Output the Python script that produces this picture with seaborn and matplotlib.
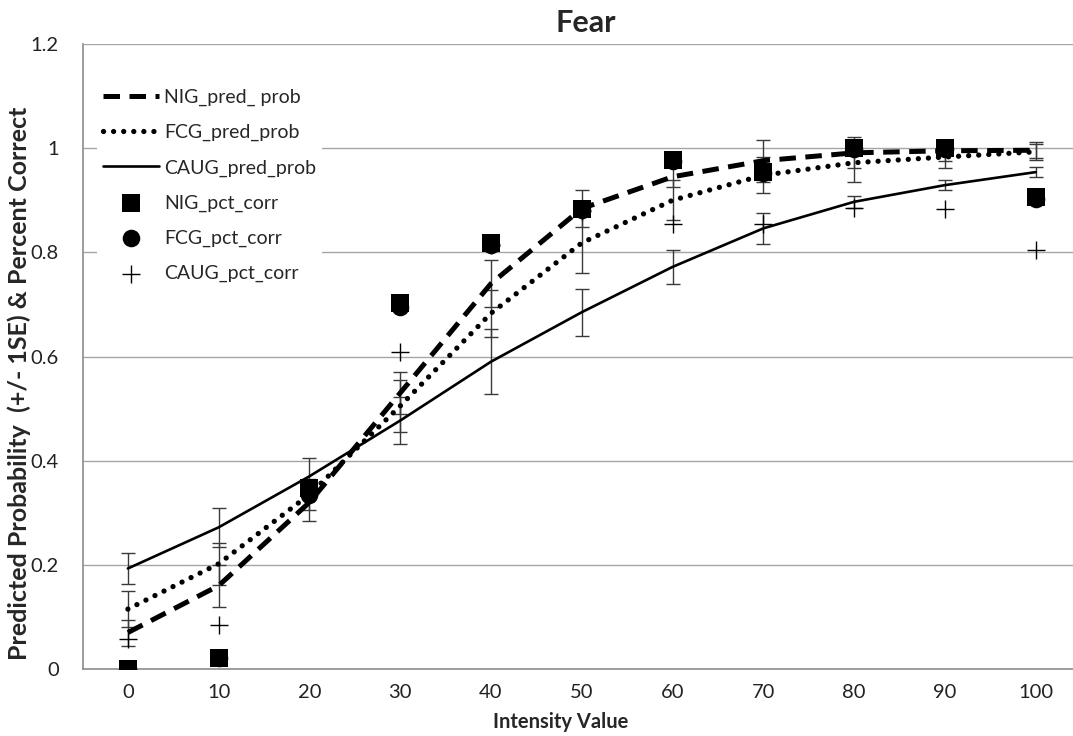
import numpy as np
import pandas as pd
import seaborn as sns
import matplotlib.pyplot as plt

# intensity levels
Intensity = [0, 10, 20, 30, 40, 50, 60, 70, 80, 90, 100]

# predicted probabilities (lines) and their standard errors
NIG_pred = [0.070, 0.160, 0.320, 0.530, 0.740, 0.884, 0.945, 0.976, 0.991, 0.995, 0.996]
FCG_pred = [0.115, 0.202, 0.335, 0.505, 0.683, 0.818, 0.900, 0.948, 0.972, 0.983, 0.993]
CAUG_pred = [0.193, 0.272, 0.370, 0.477, 0.590, 0.685, 0.772, 0.846, 0.897, 0.929, 0.954]

NIG_se = [0.025, 0.040, 0.035, 0.040, 0.045, 0.035, 0.020, 0.040, 0.030, 0.020, 0.015]
FCG_se = [0.035, 0.040, 0.030, 0.050, 0.045, 0.058, 0.038, 0.035, 0.036, 0.022, 0.015]
CAUG_se = [0.030, 0.037, 0.035, 0.045, 0.062, 0.045, 0.032, 0.030, 0.012, 0.010, 0.010]

# observed percent correct (markers)
NIG_pct = [0.000, 0.022, 0.348, 0.703, 0.818, 0.884, 0.977, 0.954, 1.000, 1.000, 0.906]
FCG_pct = [0.000, 0.022, 0.335, 0.695, 0.815, 0.882, 0.975, 0.952, 0.998, 0.998, 0.903]
CAUG_pct = [0.057, 0.084, 0.340, 0.609, 0.815, 0.880, 0.855, 0.855, 0.886, 0.884, 0.804]

Data = pd.DataFrame({'Intensity': Intensity,
                     'NIG_pred': NIG_pred, 'FCG_pred': FCG_pred, 'CAUG_pred': CAUG_pred,
                     'NIG_pct': NIG_pct, 'FCG_pct': FCG_pct, 'CAUG_pct': CAUG_pct})

sns.set_style('white')
plt.rcParams['font.family'] = ['Lato', 'DejaVu Sans']

fig = plt.figure(figsize=(10.73, 7.36), dpi=100)
ax = fig.add_axes([82.5/1073, 67/736, (1081-82.5)/1073, 625/736])

# gridlines
for g in [0.2, 0.4, 0.6, 0.8, 1.0, 1.2]:
    ax.axhline(g, color='#a6a6a6', lw=1.0, zorder=0)

ebar_col = '#3a3a3a'
for pred, se in [(NIG_pred, NIG_se), (FCG_pred, FCG_se), (CAUG_pred, CAUG_se)]:
    ax.errorbar(Intensity, pred, yerr=se, fmt='none', ecolor=ebar_col,
                elinewidth=1.0, capsize=5, capthick=1.0, zorder=2)

sns.lineplot(data=Data, x='Intensity', y='NIG_pred', ax=ax, color='black', lw=3.6,
             linestyle=(0, (3.3, 1.9)), dash_capstyle='butt', label='NIG_pred_ prob', zorder=3)
sns.lineplot(data=Data, x='Intensity', y='FCG_pred', ax=ax, color='black', lw=3.8,
             linestyle=(0, (0.01, 1.9)), dash_capstyle='round', label='FCG_pred_prob', zorder=3)
sns.lineplot(data=Data, x='Intensity', y='CAUG_pred', ax=ax, color='black', lw=1.9,
             label='CAUG_pred_prob', zorder=3)

sns.scatterplot(data=Data, x='Intensity', y='FCG_pct', ax=ax, color='black', marker='o',
                s=160, linewidth=0, label='FCG_pct_corr', zorder=4)
sns.scatterplot(data=Data, x='Intensity', y='NIG_pct', ax=ax, color='black', marker='s',
                s=160, linewidth=0, label='NIG_pct_corr', zorder=5)
sns.scatterplot(data=Data, x='Intensity', y='CAUG_pct', ax=ax, color='black', marker='+',
                s=170, linewidth=1.0, label='CAUG_pct_corr', zorder=5)

ax.set_xlim(-5, 105)
ax.set_ylim(0, 1.2)
ax.set_xticks(Intensity)
ax.set_xticklabels([str(v) for v in Intensity])
ax.set_yticks([0, 0.2, 0.4, 0.6, 0.8, 1.0, 1.2])
ax.set_yticklabels(['0', '0.2', '0.4', '0.6', '0.8', '1', '1.2'])
ax.tick_params(axis='both', length=0, labelsize=14.5, colors='#222222')
ax.tick_params(axis='y', pad=17)
ax.tick_params(axis='x', pad=11)

for side in ['top', 'right']:
    ax.spines[side].set_visible(False)
for side in ['left', 'bottom']:
    ax.spines[side].set_color('#8c8c8c')
    ax.spines[side].set_linewidth(1.2)

ax.set_xlabel('')
ax.set_ylabel('')
fig.text(586/1073, 1 - 23/736, 'Fear', ha='center', va='center', fontsize=22, fontweight='bold')
fig.text(561/1073, 1 - 722/736, 'Intensity Value', ha='center', va='center', fontsize=14.5,
         fontweight='bold')
fig.text(19/1073, 1 - 383/736, 'Predicted Probability  (+/- 1SE) & Percent Correct',
         ha='center', va='center', rotation=90, fontsize=18, fontweight='bold')

h, l = ax.get_legend_handles_labels()
order = ['NIG_pred_ prob', 'FCG_pred_prob', 'CAUG_pred_prob', 'NIG_pct_corr', 'FCG_pct_corr', 'CAUG_pct_corr']
hd = dict(zip(l, h))
leg = ax.legend([hd[k] for k in order], order, loc='upper left', bbox_to_anchor=(0.005, 0.953),
                fontsize=14, handlelength=2.9, labelspacing=0.92, handletextpad=0.25,
                frameon=True, facecolor='white', edgecolor='none', framealpha=1, borderpad=0.3)
leg.set_zorder(6)

fig.savefig('out.png', dpi=100)
